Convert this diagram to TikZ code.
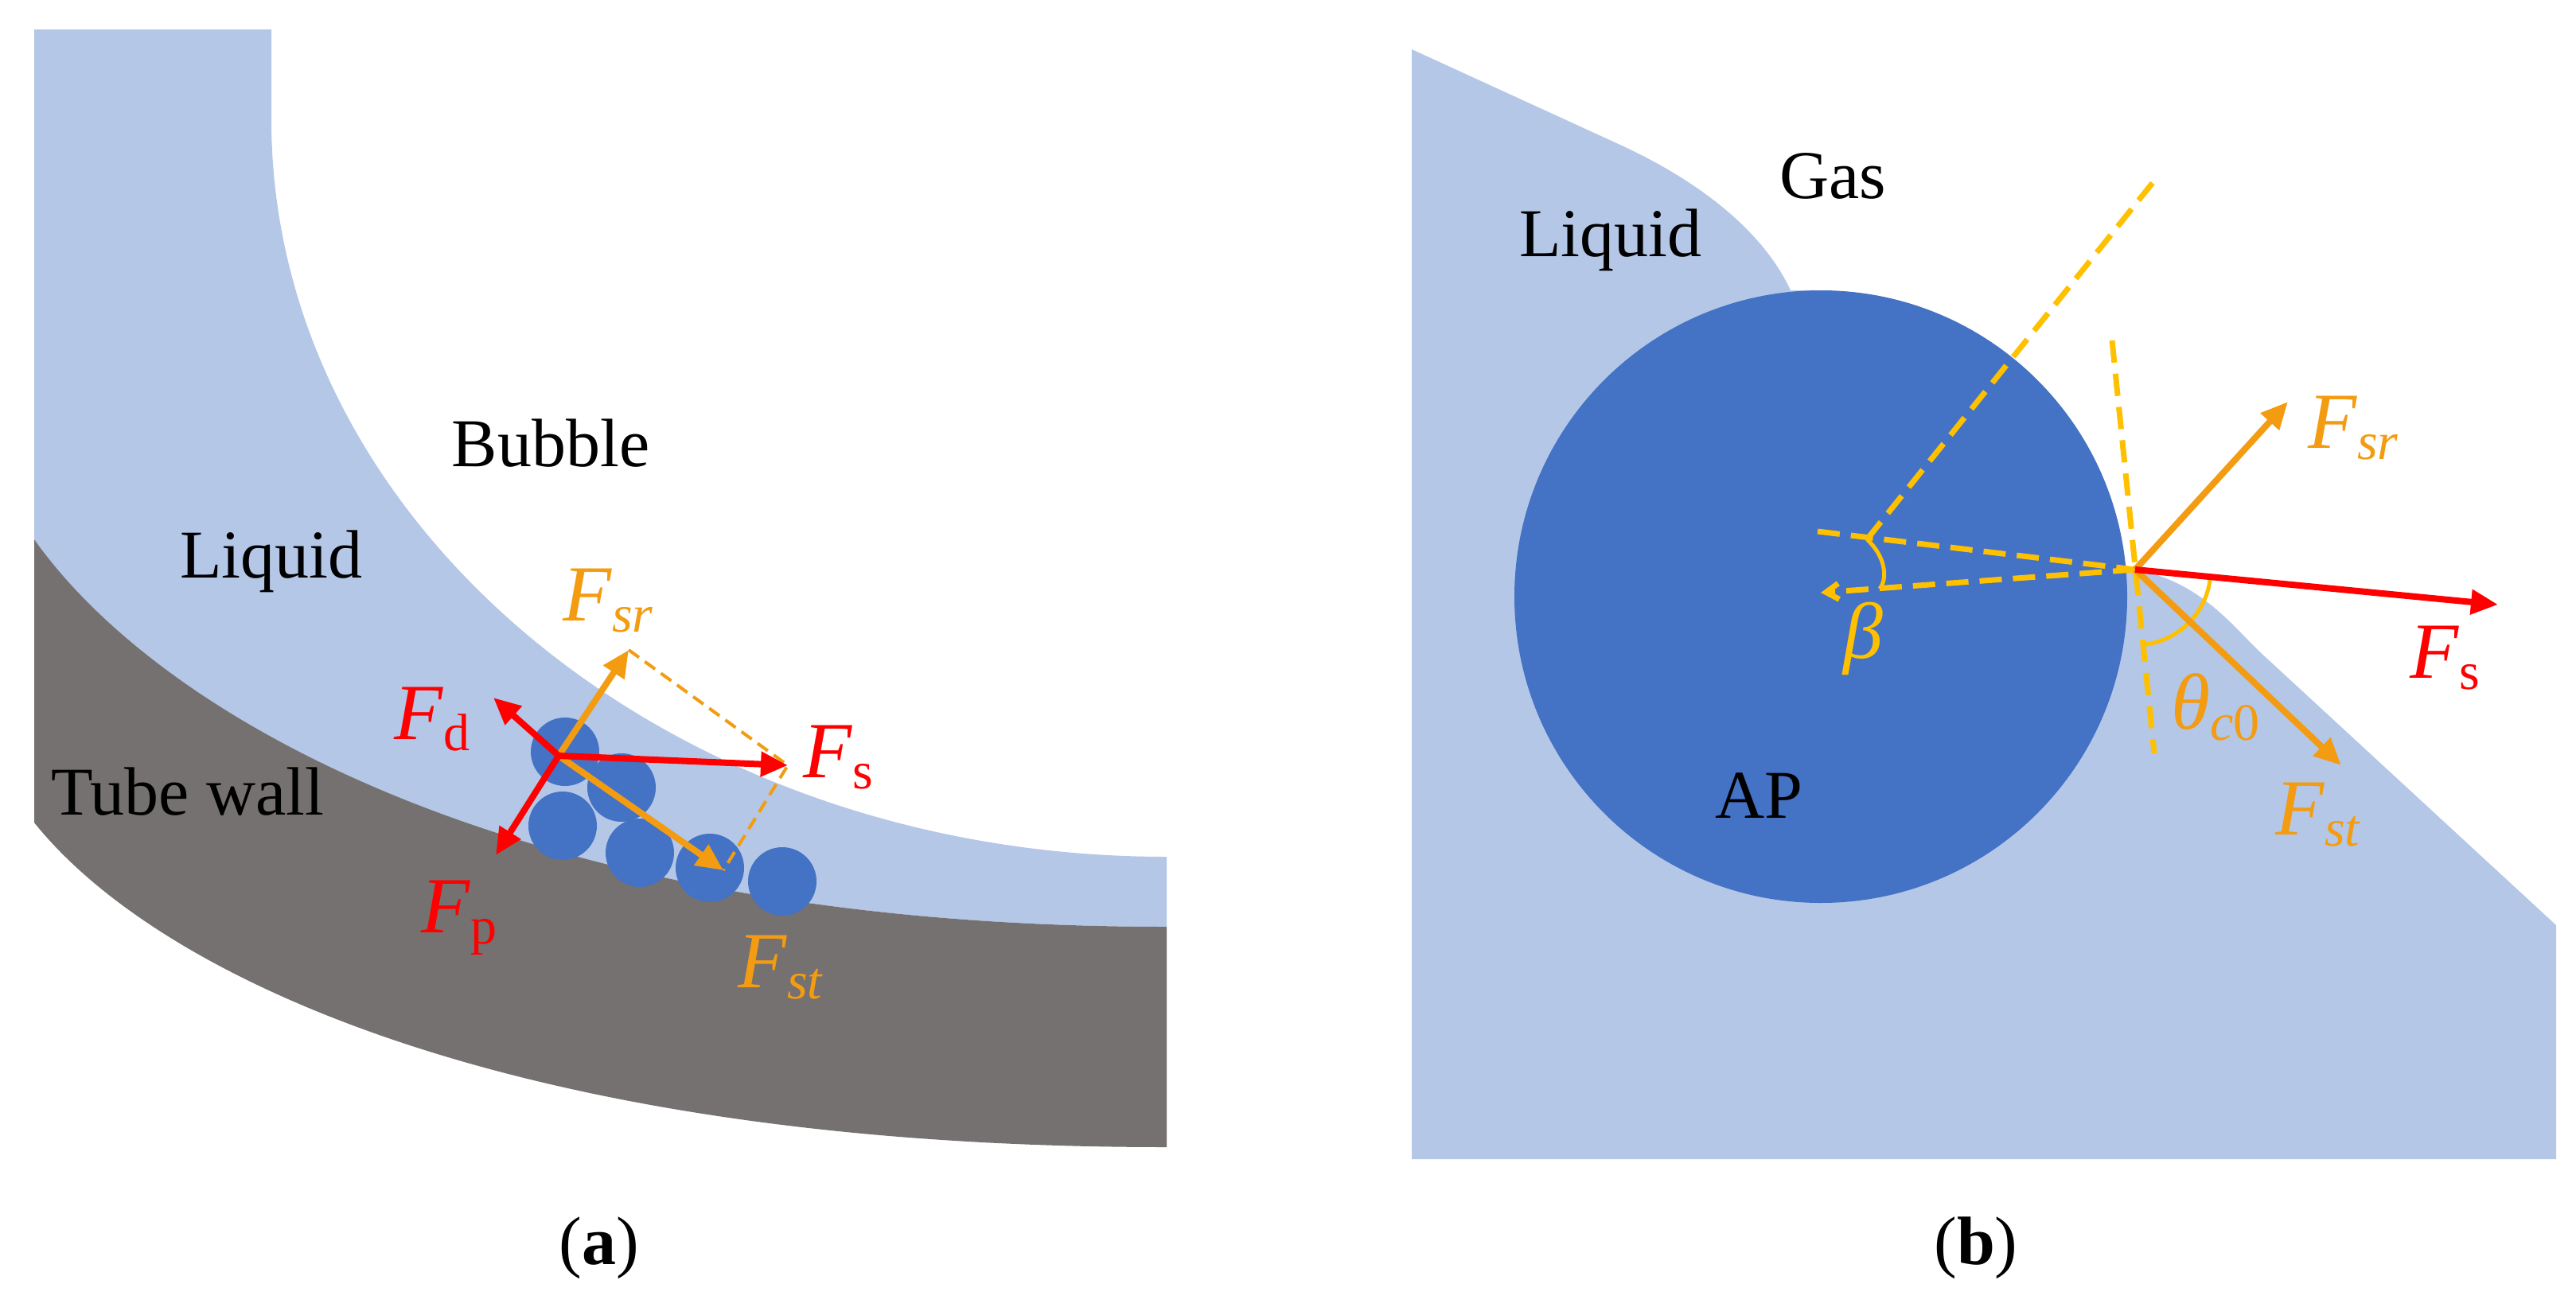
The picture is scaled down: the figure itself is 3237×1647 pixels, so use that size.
\documentclass[tikz,border=0pt]{standalone}
\usepackage{fontspec}
\setmainfont{Liberation Serif}
\usetikzlibrary{arrows.meta}
\definecolor{liq}{HTML}{B4C7E7}
\definecolor{wall}{HTML}{767171}
\definecolor{ap}{HTML}{4472C4}
\definecolor{fred}{HTML}{FF0000}
\definecolor{forg}{HTML}{F39C12}
\definecolor{dyel}{HTML}{FFC000}
\newcommand\FF[1]{\textit{F}\raisebox{-0.3ex}{\fontsize{66}{70}\selectfont #1}}
\tikzset{
 txt/.style={font=\fontsize{86}{100}\selectfont, inner sep=0},
 flab/.style={font=\fontsize{100}{110}\selectfont, inner sep=0},
 redar/.style={draw=fred, line width=8, -{Triangle[length=34,width=30]}},
 orar/.style={draw=forg, line width=8, -{Triangle[length=34,width=30]}},
 dsh/.style={draw=forg, line width=4, dash pattern=on 16 off 9},
 ydsh/.style={draw=dyel, line width=7, dash pattern=on 28 off 14},
 part/.style={fill=ap}
}
\begin{document}
\begin{tikzpicture}[x=1pt,y=-1pt]
\useasboundingbox (0,0) rectangle (3237,1647);
% ---------- panel (a)
\fill[liq] (43,37) -- (341,37) -- (341,150) .. controls (341,660) and (845,1077) .. (1466,1077)
  -- (1466,1165) .. controls (650,1165) and (200,900) .. (43,678) -- cycle;
\fill[wall] (43,678) .. controls (200,900) and (650,1165) .. (1466,1165)
  -- (1466,1442) .. controls (650,1442) and (200,1230) .. (43,1034) -- cycle;
\foreach \n/\x/\y in {p1/710/945,p2/781/990,p3/707/1038,p4/804/1072,p5/892/1091,p6/983/1108}
  \fill[part] (\x,\y) circle[radius=43];
\coordinate (o) at (702,950);
\coordinate (fd) at (620,877);
\coordinate (fp) at (623,1075);
\coordinate (fs) at (990,962);
\coordinate (fsr) at (790,817);
\coordinate (fst) at (909,1094);
\draw[dsh] (fsr) -- (fs) -- (fst);
\draw[orar] (o) -- (fsr);
\draw[orar] (o) -- (fst);
\draw[redar] (o) -- (fd);
\draw[redar] (o) -- (fp);
\draw[redar] (o) -- (fs);
\node[txt] (bub) at (692,557) {Bubble};
\node[txt] (liqa) at (341,706) {Liquid};
\node[txt] (tw) at (236,995) {Tube wall};
\node[flab,text=forg] (lsr) at (764,755) {\FF{\textit{sr}}};
\node[flab,text=fred] (ld) at (543,904) {\FF{d}};
\node[flab,text=fred] (ls) at (1053,952) {\FF{s}};
\node[flab,text=fred] (lp) at (577,1154) {\FF{p}};
\node[flab,text=forg] (lst) at (981,1216) {\FF{\textit{st}}};
\node[txt] (capa) at (753,1569) {(\textbf{a})};
% ---------- panel (b)
\fill[liq] (1774,62) -- (2038,183) .. controls (2150,235) and (2220,300) .. (2250,365)
  -- (2288,365) -- (2288,750) -- (2683,716)
  .. controls (2760,730) and (2800,780) .. (2837,817)
  -- (3212,1163) -- (3212,1457) -- (1774,1457) -- cycle;
\fill[ap] (2288,750) circle[radius=385];
\coordinate (c) at (2683,716);
\draw[ydsh] (2346,678) -- (2712,221);
\draw[ydsh] (2284,668) -- (c);
\draw[ydsh, -{Straight Barb[length=16,width=20]}] (c) -- (2288,745);
\draw[ydsh] (2654,428) -- (2707,947);
\draw[draw=dyel, line width=5] (2346,678) .. controls (2370,700) and (2372,728) .. (2362,740);
\draw[draw=dyel, line width=5] (2683,716) ++(84:95) arc[start angle=84, end angle=5, radius=95];
\draw[orar] (c) -- (2875,505);
\draw[orar] (c) -- (2942,962);
\draw[redar] (c) -- (3139,760);
\node[flab,text=forg] (bsr) at (2957,538) {\FF{\textit{sr}}};
\node[flab,text=fred] (bs) at (3072,827) {\FF{s}};
\node[flab,text=forg] (bst) at (2913,1024) {\FF{\textit{st}}};
\node[flab,text=dyel] (beta) at (2341,803) {\textit{β}};
\node[flab,text=forg] (th) at (2784,889) {\textit{θ}\raisebox{-0.3ex}{\fontsize{66}{70}\selectfont\textit{c}0}};
\node[txt] (gas) at (2303,221) {Gas};
\node[txt] (liqb) at (2024,302) {Liquid};
\node[txt] (apl) at (2210,1000) {AP};
\node[txt] (capb) at (2483,1569) {(\textbf{b})};
\end{tikzpicture}
\end{document}
